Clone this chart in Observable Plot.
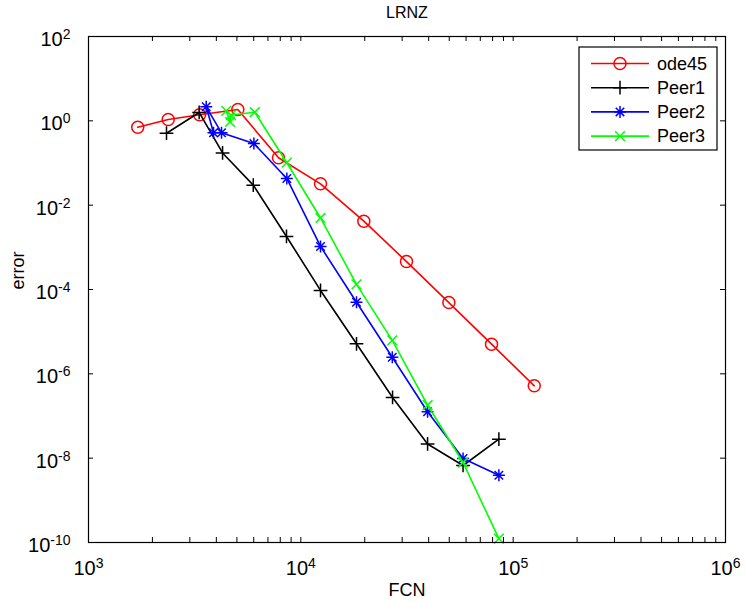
<!DOCTYPE html>
<html><head><meta charset="utf-8">
<script src="https://cdn.jsdelivr.net/npm/d3@7"></script>
<script src="https://cdn.jsdelivr.net/npm/@observablehq/plot@0.6"></script>
<style>
body{margin:0;background:#fff;}
svg{font-family:"Liberation Sans",Arial,Helvetica,sans-serif;}
</style>
</head><body><div id="chart"></div>
<script>
// ---- data ----
const methods = ["ode45", "Peer1", "Peer2", "Peer3"];
const colors  = ["#ff0000", "#000000", "#0000ff", "#00ff00"];

const ode45FCN = [1706, 2374, 3334, 5050, 7850, 12380, 19800, 31460, 49800, 79100, 125700];
const ode45Err = [0.706, 1.076, 1.39, 1.86, 0.133, 0.0321, 0.00417, 4.6e-4, 4.9e-5, 5.05e-6, 5.2e-7];

const peer1FCN = [2330, 3320, 4280, 5970, 8560, 12380, 18290, 27040, 39530, 58080, 85650];
const peer1Err = [0.509, 1.58, 0.173, 0.0298, 0.00181, 9.5e-5, 5.15e-6, 2.75e-7, 2.17e-8, 6.7e-9, 2.82e-8];

const peer2FCN = [3880, 3585, 4232, 6010, 8590, 12380, 18290, 26960, 39530, 58080, 85650];
const peer2Err = [0.52, 2.15, 0.52, 0.29, 0.043, 0.00105, 5.0e-5, 2.48e-6, 1.26e-7, 9.8e-9, 3.95e-9];

const peer3FCN = [4453, 4641, 4690, 6070, 8590, 12380, 18290, 26960, 39530, 58080, 85650];
const peer3Err = [1.73, 0.94, 1.37, 1.60, 0.1016, 0.00497, 1.32e-4, 6.2e-6, 1.82e-7, 7.9e-9, 1.23e-10];

const xTicks = [1e3, 1e4, 1e5, 1e6];
const xTickExp = ["3", "4", "5", "6"];
const yTicks = [1e2, 1e0, 1e-2, 1e-4, 1e-6, 1e-8, 1e-10];
const yTickExp = ["2", "0", "-2", "-4", "-6", "-8", "-10"];
const titleText = "LRNZ";
const xLabel = "FCN";
const yLabel = "error";

// ---- build table ----
const fcns = [ode45FCN, peer1FCN, peer2FCN, peer3FCN];
const errs = [ode45Err, peer1Err, peer2Err, peer3Err];
const rows = methods.flatMap((m, i) => fcns[i].map((f, j) => ({method: m, fcn: f, err: errs[i][j]})));

// MATLAB-like 8-spoke asterisk
const asterisk8 = {
  draw(ctx, size) {
    const r = Math.sqrt(size / Math.PI), d = r * Math.SQRT1_2;
    ctx.moveTo(-r, 0); ctx.lineTo(r, 0);
    ctx.moveTo(0, -r); ctx.lineTo(0, r);
    ctx.moveTo(-d, -d); ctx.lineTo(d, d);
    ctx.moveTo(-d, d); ctx.lineTo(d, -d);
  }
};
const symbols = ["circle", "plus", asterisk8, "times"];
const symR = [6, 4.5, 6, 4.5];

// minor ticks (log decade subdivisions)
const xMinor = [1e3, 1e4, 1e5].flatMap(b => [2,3,4,5,6,7,8,9].map(k => k * b));

const W = 745, H = 602, mL = 88, mR = 20, mT = 36, mB = 60;
const fw = W - mL - mR, fh = H - mT - mB, tk = 5;

const seriesMarks = methods.flatMap((m, i) => {
  const data = rows.filter(r => r.method === m);
  return [
    Plot.line(data, {x: "fcn", y: "err", stroke: colors[i], strokeWidth: 1.6}),
    Plot.dot(data, {x: "fcn", y: "err", symbol: () => symbols[i], r: symR[i], stroke: colors[i], fill: "none", strokeWidth: 1.5})
  ];
});

const chart = Plot.plot({
  width: W, height: H,
  marginLeft: mL, marginRight: mR, marginTop: mT, marginBottom: mB,
  x: {type: "log", domain: [1e3, 1e6], axis: null},
  y: {type: "log", domain: [1e-10, 1e2], axis: null},
  symbol: {range: symbols, domain: symbols},
  style: {background: "white", fontFamily: "Liberation Sans, Arial, sans-serif"},
  marks: [
    Plot.tickX(xTicks.concat(xMinor), {x: d => d, insetTop: fh - tk, stroke: "black", strokeWidth: 1}),
    Plot.tickX(xTicks.concat(xMinor), {x: d => d, insetBottom: fh - tk, stroke: "black", strokeWidth: 1}),
    Plot.tickY(yTicks, {y: d => d, insetRight: fw - tk, stroke: "black", strokeWidth: 1}),
    Plot.tickY(yTicks, {y: d => d, insetLeft: fw - tk, stroke: "black", strokeWidth: 1}),
    ...seriesMarks,
    Plot.frame({stroke: "black", strokeWidth: 1.2}),
    Plot.text(xTicks, {x: d => d, text: (d, i) => "10^" + xTickExp[i], frameAnchor: "bottom", dy: 26, fontSize: 20, textAnchor: "middle", lineAnchor: "middle", fill: "black"}),
    Plot.text(yTicks, {y: d => d, text: (d, i) => "10^" + yTickExp[i], frameAnchor: "left", dx: -18, dy: 3, fontSize: 20, textAnchor: "end", lineAnchor: "middle", fill: "black"}),
    Plot.text([xLabel], {frameAnchor: "bottom", dy: 48, fontSize: 18, lineAnchor: "middle", fill: "black"}),
    Plot.text([yLabel], {frameAnchor: "left", dx: -70, rotate: -90, fontSize: 18, lineAnchor: "middle", fill: "black"}),
    Plot.text([titleText], {frameAnchor: "top", dy: -24, fontSize: 16, lineAnchor: "middle", fill: "black"})
  ]
});

// superscripts
const svg = d3.select(chart);
svg.selectAll("text").each(function() {
  const s = this.textContent;
  if (!s.includes("^")) return;
  const [base, exp] = s.split("^");
  this.textContent = base;
  d3.select(this).append("tspan").attr("dy", "-0.5em").attr("font-size", "14px").text(exp);
});

// legend
const lg = svg.append("g").attr("aria-label", "legend");
const lx = W - mR - 8 - 138, ly = mT + 11;
lg.append("rect").attr("x", lx).attr("y", ly).attr("width", 138).attr("height", 103)
  .attr("fill", "white").attr("stroke", "black").attr("stroke-width", 1.2);
methods.forEach((m, i) => {
  const yy = ly + 16.5 + i * 24.2;
  lg.append("line").attr("x1", lx + 12).attr("x2", lx + 70).attr("y1", yy).attr("y2", yy)
    .attr("stroke", colors[i]).attr("stroke-width", 1.6);
  if (symbols[i] === "circle") {
    lg.append("circle").attr("cx", lx + 41).attr("cy", yy).attr("r", symR[i])
      .attr("fill", "none").attr("stroke", colors[i]).attr("stroke-width", 1.5);
  } else {
    const symType = symbols[i] === "plus" ? d3.symbolPlus : symbols[i] === "times" ? d3.symbolTimes : asterisk8;
    lg.append("path").attr("transform", `translate(${lx + 41},${yy})`)
      .attr("d", d3.symbol(symType, Math.PI * symR[i] * symR[i])())
      .attr("fill", "none").attr("stroke", colors[i]).attr("stroke-width", 1.5);
  }
  lg.append("text").attr("x", lx + 78).attr("y", yy).attr("dy", "0.35em")
    .attr("text-anchor", "start").attr("font-size", 18).attr("fill", "black").text(m);
});

document.getElementById("chart").appendChild(chart);
</script>
</body></html>
